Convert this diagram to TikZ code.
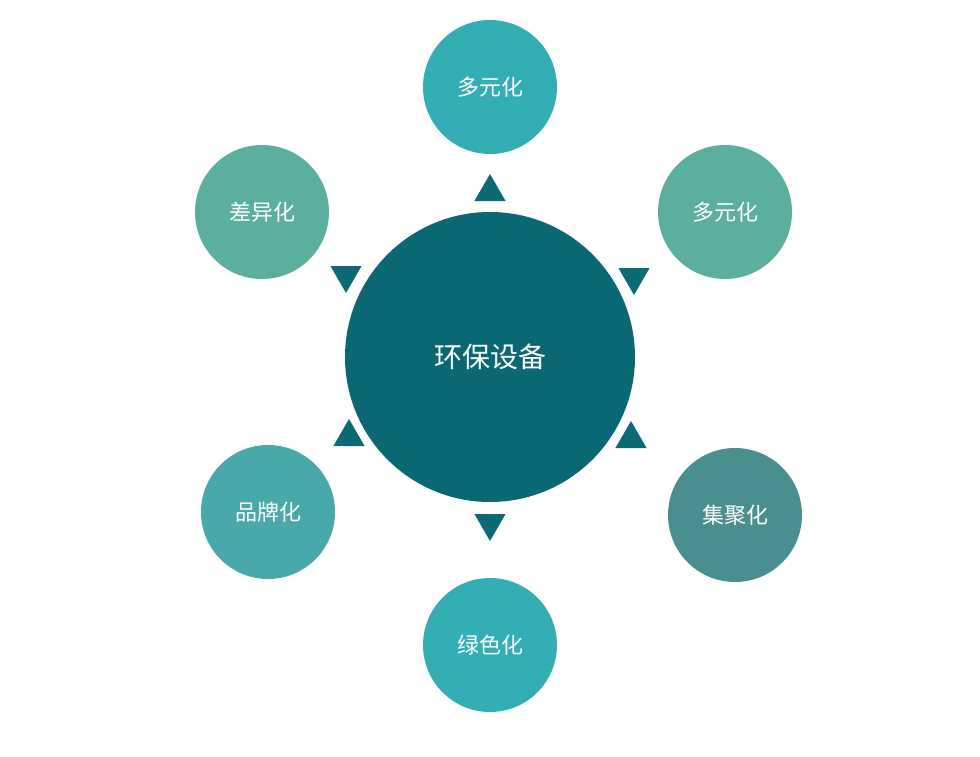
\documentclass[tikz,border=0pt]{standalone}
\usepackage{fontspec}
\newfontfamily\cjk{Noto Sans CJK SC}
\usetikzlibrary{shapes.geometric}
\definecolor{hubteal}{HTML}{096874}
\definecolor{tipteal}{HTML}{0B6A76}
\definecolor{cyanA}{HTML}{33AEB5}
\definecolor{greenA}{HTML}{5AAF9F}
\definecolor{greyA}{HTML}{4A8F8F}
\definecolor{cyanB}{HTML}{48A8AA}
\tikzset{
  petal/.style={circle, minimum size=100.5pt, inner sep=0pt, text=white, font=\cjk\fontsize{16.5}{18}\selectfont},
  tip/.style={regular polygon, regular polygon sides=3, fill=tipteal, minimum size=27pt, inner sep=0pt}
}
\begin{document}
\begin{tikzpicture}[x=0.75pt,y=0.75pt,yscale=-1,xscale=1]
        \useasboundingbox (0,0) rectangle (980,756);

        % Hub
        \node [circle, fill=hubteal, minimum size=217.5pt, inner sep=0pt, text=white, font=\cjk\fontsize{21}{24}\selectfont] (hub) at (490,357) {环保设备};

        % Outer circles
        \node [petal, fill=cyanA] (top) at (490,87) {多元化};
        \node [petal, fill=greenA] (upright) at (725,212) {多元化};
        \node [petal, fill=greyA] (lowright) at (735,515) {集聚化};
        \node [petal, fill=cyanA] (bottom) at (490,645) {绿色化};
        \node [petal, fill=cyanB] (lowleft) at (268,512) {品牌化};
        \node [petal, fill=greenA] (upleft) at (262,212) {差异化};

        % Pointers
        \node [tip, rotate=0] (ptop) at (490,192) {};
        \node [tip, rotate=-60] (pupright) at (634,277) {};
        \node [tip, rotate=-120] (plowright) at (631,439) {};
        \node [tip, rotate=180] (pbottom) at (490,523) {};
        \node [tip, rotate=120] (plowleft) at (349,437) {};
        \node [tip, rotate=60] (pupleft) at (346,275) {};
\end{tikzpicture}
\end{document}
